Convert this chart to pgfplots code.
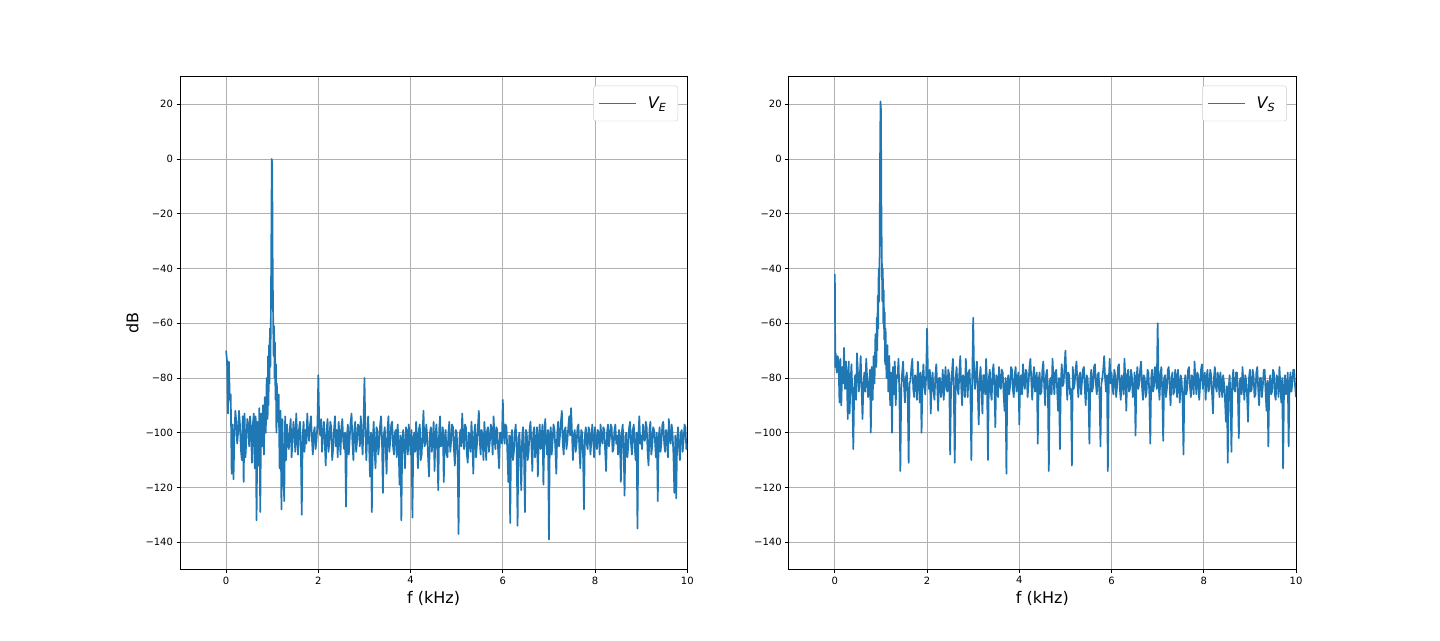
\documentclass[border=0pt]{standalone}
\usepackage{fontspec}
\setmainfont{DejaVu Sans}
\usepackage{pgfplots}
\pgfplotsset{compat=1.18}
\definecolor{mplblue}{HTML}{1F77B4}

\pgfplotsset{
  spec/.style={
    scale only axis, width=507.27pt, height=492.8pt, anchor=south west,
    xmin=-1, xmax=10, ymin=-150, ymax=30,
    xtick={0,2,4,6,8,10}, xticklabels={0,2,4,6,8,10},
    ytick={-140,-120,-100,-80,-60,-40,-20,0,20},
    yticklabels={−140,−120,−100,−80,−60,−40,−20,0,20},
    xtick pos=left, ytick pos=left, tick align=outside,
    major tick length=3.5pt,
    tick style={black, line width=0.8pt},
    axis line style={line width=0.8pt},
    grid=major, grid style={color=black!31, line width=0.8pt},
    tick label style={font=\fontsize{10}{12}\selectfont},
    label style={font=\fontsize{16}{19}\selectfont},
    xlabel={f (kHz)},
    legend style={at={(0.982,0.982)}, anchor=north east, draw=black!20,
      rounded corners=2.5pt, fill=white, inner xsep=4.5pt, inner ysep=5pt,
      nodes={inner xsep=7pt, inner ysep=6pt},
      font=\fontsize{16}{19}\selectfont},
    legend cell align=left,
  },
  sig/.style={mplblue, line width=1.7pt, line join=round, no markers},
}

\begin{document}
\begin{tikzpicture}[x=1pt,y=1pt]
\useasboundingbox (0,0) rectangle (1440,640);

% V_E
\begin{axis}[spec, at={(180pt,70.4pt)}, ylabel={dB},
  legend image code/.code={\draw[mplblue, line width=1.8pt] (0pt,0pt) -- (37pt,0pt);}]
\addplot[sig] coordinates {
(0.00,-70) (0.02,-74) (0.04,-93) (0.06,-74) (0.08,-88) (0.10,-86) (0.12,-115)
(0.14,-97) (0.16,-117) (0.18,-101) (0.20,-92) (0.22,-96) (0.24,-104) (0.26,-100)
(0.28,-92) (0.30,-97) (0.32,-106) (0.34,-110) (0.36,-94) (0.38,-118) (0.40,-93)
(0.42,-109) (0.44,-102) (0.46,-95) (0.48,-97) (0.50,-105) (0.52,-94) (0.54,-99)
(0.56,-111) (0.58,-97) (0.60,-93)
(0.62,-113) (0.64,-94) (0.66,-132) (0.68,-96) (0.70,-112) (0.72,-91) (0.74,-129)
(0.76,-93) (0.78,-105) (0.80,-90) (0.82,-108) (0.84,-87) (0.86,-100) (0.88,-80)
(0.90,-95) (0.91,-72) (0.92,-90) (0.93,-68) (0.94,-82) (0.95,-62) (0.96,-76)
(0.97,-58) (0.98,-30) (0.99,0) (1.00,-2) (1.01,-40) (1.02,-58) (1.03,-72)
(1.04,-61) (1.05,-80) (1.06,-67) (1.07,-88) (1.08,-75) (1.09,-100) (1.10,-82)
(1.12,-96) (1.14,-86) (1.16,-113) (1.18,-92) (1.20,-128) (1.22,-95) (1.24,-112)
(1.26,-125) (1.28,-94) (1.30,-110) (1.32,-97) (1.34,-104) (1.36,-106) (1.38,-99)
(1.40,-95) (1.42,-109) (1.44,-103) (1.46,-96) (1.48,-100) (1.50,-107) (1.52,-93)
(1.54,-101) (1.56,-108) (1.58,-99) (1.60,-96) (1.62,-105) (1.64,-130) (1.66,-101)
(1.68,-96) (1.70,-107) (1.72,-99) (1.74,-104) (1.76,-93) (1.78,-100) (1.80,-103)
(1.82,-97) (1.84,-94) (1.86,-102) (1.88,-108) (1.90,-100) (1.92,-98) (1.94,-106)
(1.96,-103) (1.98,-97) (2.00,-79) (2.02,-98) (2.04,-101) (2.06,-95) (2.08,-107)
(2.10,-100) (2.12,-96) (2.14,-104) (2.16,-112) (2.18,-99) (2.20,-95) (2.22,-107)
(2.24,-103) (2.26,-96) (2.28,-98) (2.30,-110) (2.32,-106) (2.34,-99) (2.36,-94)
(2.38,-105) (2.40,-99) (2.42,-109) (2.44,-96) (2.46,-101) (2.48,-108) (2.50,-98)
(2.52,-95) (2.54,-103) (2.56,-106) (2.58,-100) (2.60,-127) (2.62,-101) (2.64,-97)
(2.66,-108) (2.68,-102) (2.70,-96) (2.72,-93) (2.74,-104) (2.76,-110) (2.78,-99)
(2.80,-96) (2.82,-107) (2.84,-103) (2.86,-97) (2.88,-98) (2.90,-105) (2.92,-94)
(2.94,-101) (2.96,-108) (2.98,-97) (3.00,-80) (3.02,-99) (3.04,-110) (3.06,-101)
(3.08,-94) (3.10,-104) (3.12,-116) (3.14,-100) (3.16,-129) (3.18,-103) (3.20,-96)
(3.22,-107) (3.24,-113) (3.26,-98) (3.28,-99) (3.30,-108) (3.32,-104) (3.34,-97)
(3.36,-94) (3.38,-103) (3.40,-122) (3.42,-101) (3.44,-98) (3.46,-106) (3.48,-115)
(3.50,-99) (3.52,-94) (3.54,-107) (3.56,-103) (3.58,-97) (3.60,-96) (3.62,-105)
(3.64,-108) (3.66,-100) (3.68,-99) (3.70,-109) (3.72,-97) (3.74,-104) (3.76,-119)
(3.78,-101) (3.80,-132) (3.82,-103) (3.84,-99) (3.86,-106) (3.88,-113) (3.90,-98)
(3.92,-100) (3.94,-108) (3.96,-97) (3.98,-102) (4.00,-108) (4.02,-99) (4.04,-131)
(4.06,-102) (4.08,-100) (4.10,-107) (4.12,-96) (4.14,-103) (4.16,-113) (4.18,-99)
(4.20,-97) (4.22,-110) (4.24,-108) (4.26,-100) (4.28,-92) (4.30,-105) (4.32,-104)
(4.34,-97) (4.36,-101) (4.38,-109) (4.40,-116) (4.42,-100) (4.44,-98) (4.46,-107)
(4.48,-103) (4.50,-96) (4.52,-114) (4.54,-101) (4.56,-97) (4.58,-106) (4.60,-121)
(4.62,-99) (4.64,-94) (4.66,-105) (4.68,-104) (4.70,-98) (4.72,-118) (4.74,-102)
(4.76,-99) (4.78,-108) (4.80,-109) (4.82,-100) (4.84,-96) (4.86,-107) (4.88,-103)
(4.90,-97) (4.92,-98) (4.94,-106) (4.96,-112) (4.98,-99) (5.00,-100) (5.02,-109)
(5.04,-137) (5.06,-102) (5.08,-99) (5.10,-105) (5.12,-93) (5.14,-102) (5.16,-106)
(5.18,-97) (5.20,-98) (5.22,-108) (5.24,-111) (5.26,-100) (5.28,-101) (5.30,-107)
(5.32,-96) (5.34,-103) (5.36,-115) (5.38,-100) (5.40,-97) (5.42,-109) (5.44,-104)
(5.46,-98) (5.48,-92) (5.50,-103) (5.52,-108) (5.54,-99) (5.56,-101) (5.58,-110)
(5.60,-96) (5.62,-102) (5.64,-110) (5.66,-99) (5.68,-98) (5.70,-107) (5.72,-103)
(5.74,-97) (5.76,-99) (5.78,-108) (5.80,-94) (5.82,-102) (5.84,-106) (5.86,-98)
(5.88,-99) (5.90,-107) (5.92,-113) (5.94,-100) (5.96,-100) (5.98,-104) (6.00,-88)
(6.02,-101) (6.04,-104) (6.06,-97) (6.08,-98) (6.10,-108) (6.12,-118) (6.14,-101)
(6.16,-133) (6.18,-102) (6.20,-99) (6.22,-110) (6.24,-107) (6.26,-100) (6.28,-97)
(6.30,-106) (6.32,-134) (6.34,-102) (6.36,-100) (6.38,-109) (6.40,-121) (6.42,-101)
(6.44,-98) (6.46,-108) (6.48,-129) (6.50,-99) (6.52,-100) (6.54,-110) (6.56,-107)
(6.58,-99) (6.60,-96) (6.62,-104) (6.64,-114) (6.66,-100) (6.68,-98) (6.70,-109)
(6.72,-105) (6.74,-98) (6.76,-116) (6.78,-102) (6.80,-97) (6.82,-106) (6.84,-102)
(6.86,-97) (6.88,-119) (6.90,-101) (6.92,-95) (6.94,-104) (6.96,-108) (6.98,-99)
(7.00,-139) (7.02,-101) (7.04,-98) (7.06,-108) (7.08,-103) (7.10,-97) (7.12,-99)
(7.14,-106) (7.16,-115) (7.18,-100) (7.20,-96) (7.22,-105) (7.24,-101) (7.26,-96)
(7.28,-92) (7.30,-104) (7.32,-108) (7.34,-99) (7.36,-98) (7.38,-106) (7.40,-103)
(7.42,-98) (7.44,-94) (7.46,-101) (7.48,-91) (7.50,-100) (7.52,-110) (7.54,-101)
(7.56,-99) (7.58,-107) (7.60,-104) (7.62,-98) (7.64,-97) (7.66,-106) (7.68,-113)
(7.70,-99) (7.72,-100) (7.74,-108) (7.76,-128) (7.78,-101) (7.80,-98) (7.82,-104)
(7.84,-106) (7.86,-98) (7.88,-99) (7.90,-108) (7.92,-103) (7.94,-97) (7.96,-102)
(7.98,-109) (8.00,-98) (8.02,-103) (8.04,-106) (8.06,-99) (8.08,-100) (8.10,-108)
(8.12,-97) (8.14,-102) (8.16,-104) (8.18,-98) (8.20,-99) (8.22,-107) (8.24,-114)
(8.26,-100) (8.28,-97) (8.30,-105) (8.32,-102) (8.34,-97) (8.36,-98) (8.38,-107)
(8.40,-106) (8.42,-99) (8.44,-97) (8.46,-104) (8.48,-101) (8.50,-108) (8.52,-99)
(8.54,-102) (8.56,-118) (8.58,-100) (8.60,-97) (8.62,-106) (8.64,-123) (8.66,-101)
(8.68,-100) (8.70,-109) (8.72,-105) (8.74,-98) (8.76,-96) (8.78,-104) (8.80,-108)
(8.82,-99) (8.84,-97) (8.86,-105) (8.88,-110) (8.90,-100) (8.92,-135) (8.94,-101)
(8.96,-94) (8.98,-104) (9.00,-101) (9.02,-106) (9.04,-97) (9.06,-102) (9.08,-103)
(9.10,-96) (9.12,-98) (9.14,-107) (9.16,-112) (9.18,-99) (9.20,-96) (9.22,-108)
(9.24,-105) (9.26,-98) (9.28,-99) (9.30,-103) (9.32,-109) (9.34,-100) (9.36,-125)
(9.38,-102) (9.40,-98) (9.42,-107) (9.44,-103) (9.46,-97) (9.48,-96) (9.50,-104)
(9.52,-107) (9.54,-99) (9.56,-101) (9.58,-109) (9.60,-95) (9.62,-102) (9.64,-104)
(9.66,-97) (9.68,-100) (9.70,-108) (9.72,-122) (9.74,-101) (9.76,-124) (9.78,-103)
(9.80,-98) (9.82,-105) (9.84,-110) (9.86,-100) (9.88,-99) (9.90,-107) (9.92,-103)
(9.94,-97) (9.96,-98) (9.98,-106) (10.00,-104)
};
\addlegendentry{\hspace{4pt}\itshape V\textsubscript{E}}
\end{axis}

% V_S
\begin{axis}[spec, at={(788.73pt,70.4pt)},
  legend image code/.code={\draw[mplblue, line width=1.8pt] (0pt,0pt) -- (37pt,0pt);}]
\addplot[sig] coordinates {
(0.00,-42) (0.01,-76) (0.02,-71) (0.04,-78) (0.06,-72) (0.08,-74) (0.10,-89)
(0.12,-73) (0.14,-90) (0.16,-76) (0.18,-82) (0.20,-69) (0.22,-84) (0.24,-74)
(0.26,-80) (0.28,-95) (0.30,-74) (0.32,-93) (0.34,-82) (0.36,-75) (0.38,-86)
(0.40,-106) (0.42,-84) (0.44,-79) (0.46,-88) (0.48,-71) (0.50,-78) (0.52,-85)
(0.54,-80) (0.56,-72) (0.58,-84) (0.60,-95) (0.62,-82) (0.64,-78) (0.66,-85)
(0.68,-73) (0.70,-80) (0.72,-87) (0.74,-84) (0.76,-77) (0.78,-100) (0.80,-76)
(0.82,-88) (0.84,-72) (0.86,-82) (0.88,-64) (0.90,-76) (0.91,-58) (0.92,-70)
(0.93,-50) (0.94,-62) (0.95,-40) (0.96,-52) (0.97,-37) (0.98,0) (0.99,21)
(1.00,18) (1.01,-20) (1.02,-38) (1.03,-52) (1.04,-40) (1.05,-60) (1.06,-48)
(1.07,-66) (1.08,-56) (1.09,-75) (1.10,-62) (1.12,-80) (1.14,-68) (1.16,-85)
(1.18,-72) (1.20,-90) (1.22,-78) (1.24,-100) (1.26,-76) (1.28,-86) (1.30,-74)
(1.32,-90) (1.34,-79) (1.36,-80) (1.38,-73) (1.40,-86) (1.42,-114) (1.44,-84)
(1.46,-78) (1.48,-74) (1.50,-83) (1.52,-89) (1.54,-80) (1.56,-78) (1.58,-86)
(1.60,-111) (1.62,-82) (1.64,-81) (1.66,-76) (1.68,-73) (1.70,-84) (1.72,-87)
(1.74,-79) (1.76,-80) (1.78,-88) (1.80,-74) (1.82,-81) (1.84,-89) (1.86,-78)
(1.88,-100) (1.90,-82) (1.92,-75) (1.94,-83) (1.96,-86) (1.98,-79) (2.00,-62)
(2.02,-80) (2.04,-84) (2.06,-77) (2.08,-93) (2.10,-81) (2.12,-78) (2.14,-85)
(2.16,-88) (2.18,-79) (2.20,-75) (2.22,-83) (2.24,-92) (2.26,-80) (2.28,-80)
(2.30,-87) (2.32,-84) (2.34,-77) (2.36,-88) (2.38,-82) (2.40,-76) (2.42,-84)
(2.44,-85) (2.46,-77) (2.48,-79) (2.50,-108) (2.52,-83) (2.54,-78) (2.56,-73)
(2.58,-86) (2.60,-111) (2.62,-80) (2.64,-76) (2.66,-84) (2.68,-86) (2.70,-78)
(2.72,-72) (2.74,-83) (2.76,-90) (2.78,-79) (2.80,-80) (2.82,-87) (2.84,-73)
(2.86,-81) (2.88,-87) (2.90,-78) (2.92,-77) (2.94,-85) (2.96,-110) (2.98,-80)
(3.00,-58) (3.02,-79) (3.04,-84) (3.06,-78) (3.08,-74) (3.10,-85) (3.12,-97)
(3.14,-80) (3.16,-76) (3.18,-84) (3.20,-93) (3.22,-79) (3.24,-79) (3.26,-86)
(3.28,-73) (3.30,-82) (3.32,-110) (3.34,-80) (3.36,-77) (3.38,-85) (3.40,-88)
(3.42,-78) (3.44,-75) (3.46,-83) (3.48,-98) (3.50,-79) (3.52,-80) (3.54,-87)
(3.56,-76) (3.58,-82) (3.60,-84) (3.62,-77) (3.64,-78) (3.66,-86) (3.68,-92)
(3.70,-80) (3.72,-115) (3.74,-82) (3.76,-79) (3.78,-86) (3.80,-83) (3.82,-76)
(3.84,-77) (3.86,-84) (3.88,-87) (3.90,-79) (3.92,-76) (3.94,-85) (3.96,-81)
(3.98,-78) (4.00,-97) (4.02,-80) (4.04,-79) (4.06,-86) (4.08,-75) (4.10,-82)
(4.12,-84) (4.14,-77) (4.16,-78) (4.18,-87) (4.20,-82) (4.22,-76) (4.24,-73)
(4.26,-81) (4.28,-88) (4.30,-79) (4.32,-76) (4.34,-85) (4.36,-80) (4.38,-78)
(4.40,-104) (4.42,-81) (4.44,-78) (4.46,-86) (4.48,-85) (4.50,-77) (4.52,-74)
(4.54,-83) (4.56,-90) (4.58,-79) (4.60,-77) (4.62,-85) (4.64,-114) (4.66,-81)
(4.68,-80) (4.70,-86) (4.72,-73) (4.74,-80) (4.76,-86) (4.78,-78) (4.80,-77)
(4.82,-84) (4.84,-92) (4.86,-80) (4.88,-106) (4.90,-82) (4.92,-75) (4.94,-83)
(4.96,-82) (4.98,-76) (5.00,-70) (5.02,-80) (5.04,-88) (5.06,-78) (5.08,-79)
(5.10,-86) (5.12,-84) (5.14,-112) (5.16,-76) (5.18,-84) (5.20,-82) (5.22,-77)
(5.24,-74) (5.26,-82) (5.28,-87) (5.30,-79) (5.32,-78) (5.34,-86) (5.36,-81)
(5.38,-77) (5.40,-76) (5.42,-84) (5.44,-90) (5.46,-79) (5.48,-80) (5.50,-86)
(5.52,-104) (5.54,-81) (5.56,-77) (5.58,-85) (5.60,-83) (5.62,-76) (5.64,-75)
(5.66,-82) (5.68,-86) (5.70,-79) (5.72,-78) (5.74,-87) (5.76,-105) (5.78,-82)
(5.80,-80) (5.82,-77) (5.84,-72) (5.86,-80) (5.88,-85) (5.90,-79) (5.92,-114)
(5.94,-81) (5.96,-73) (5.98,-82) (6.00,-78) (6.02,-84) (6.04,-86) (6.06,-77)
(6.08,-79) (6.10,-87) (6.12,-83) (6.14,-76) (6.16,-75) (6.18,-84) (6.20,-88)
(6.22,-79) (6.24,-81) (6.26,-86) (6.28,-73) (6.30,-80) (6.32,-92) (6.34,-79)
(6.36,-77) (6.38,-85) (6.40,-84) (6.42,-77) (6.44,-79) (6.46,-87) (6.48,-86)
(6.50,-78) (6.52,-101) (6.54,-81) (6.56,-76) (6.58,-84) (6.60,-82) (6.62,-77)
(6.64,-74) (6.66,-83) (6.68,-88) (6.70,-79) (6.72,-80) (6.74,-87) (6.76,-85)
(6.78,-77) (6.80,-78) (6.82,-86) (6.84,-104) (6.86,-80) (6.88,-77) (6.90,-85)
(6.92,-83) (6.94,-76) (6.96,-80) (6.98,-84) (7.00,-60) (7.02,-82) (7.04,-88)
(7.06,-79) (7.08,-76) (7.10,-85) (7.12,-103) (7.14,-80) (7.16,-79) (7.18,-87)
(7.20,-84) (7.22,-77) (7.24,-76) (7.26,-83) (7.28,-90) (7.30,-80) (7.32,-78)
(7.34,-86) (7.36,-85) (7.38,-77) (7.40,-80) (7.42,-87) (7.44,-77) (7.46,-82)
(7.48,-89) (7.50,-79) (7.52,-81) (7.54,-88) (7.56,-108) (7.58,-82) (7.60,-79)
(7.62,-86) (7.64,-84) (7.66,-77) (7.68,-76) (7.70,-83) (7.72,-87) (7.74,-79)
(7.76,-80) (7.78,-86) (7.80,-74) (7.82,-81) (7.84,-86) (7.86,-78) (7.88,-79)
(7.90,-88) (7.92,-83) (7.94,-77) (7.96,-75) (7.98,-84) (8.00,-80) (8.02,-78)
(8.04,-88) (8.06,-80) (8.08,-77) (8.10,-85) (8.12,-84) (8.14,-77) (8.16,-79)
(8.18,-86) (8.20,-93) (8.22,-80) (8.24,-76) (8.26,-83) (8.28,-85) (8.30,-78)
(8.32,-80) (8.34,-87) (8.36,-78) (8.38,-82) (8.40,-87) (8.42,-79) (8.44,-82)
(8.46,-88) (8.48,-96) (8.50,-83) (8.52,-111) (8.54,-84) (8.56,-79) (8.58,-87)
(8.60,-107) (8.62,-81) (8.64,-77) (8.66,-84) (8.68,-85) (8.70,-78) (8.72,-78)
(8.74,-86) (8.76,-102) (8.78,-81) (8.80,-80) (8.82,-86) (8.84,-76) (8.86,-82)
(8.88,-88) (8.90,-79) (8.92,-81) (8.94,-87) (8.96,-96) (8.98,-80) (9.00,-77)
(9.02,-85) (9.04,-84) (9.06,-77) (9.08,-79) (9.10,-87) (9.12,-86) (9.14,-78)
(9.16,-76) (9.18,-84) (9.20,-90) (9.22,-80) (9.24,-80) (9.26,-87) (9.28,-83)
(9.30,-77) (9.32,-77) (9.34,-85) (9.36,-92) (9.38,-81) (9.40,-105) (9.42,-83)
(9.44,-79) (9.46,-86) (9.48,-85) (9.50,-77) (9.52,-78) (9.54,-86) (9.56,-88)
(9.58,-79) (9.60,-80) (9.62,-87) (9.64,-76) (9.66,-82) (9.68,-89) (9.70,-80)
(9.72,-113) (9.74,-84) (9.76,-79) (9.78,-86) (9.80,-84) (9.82,-78) (9.84,-105)
(9.86,-82) (9.88,-78) (9.90,-85) (9.92,-82) (9.94,-77) (9.96,-77) (9.98,-83)
(10.00,-87)
};
\addlegendentry{\hspace{4pt}\itshape V\textsubscript{S}}
\end{axis}
\end{tikzpicture}
\end{document}
